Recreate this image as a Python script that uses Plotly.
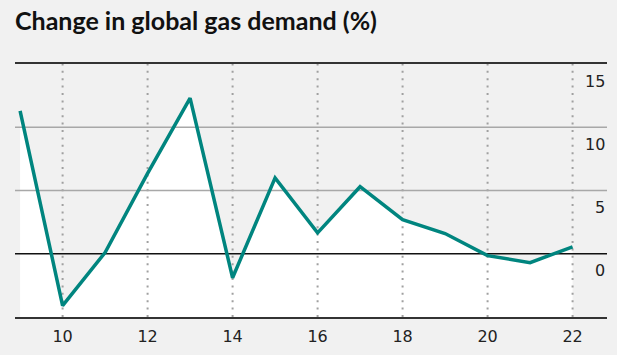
import plotly.graph_objects as go

years = [9, 10, 11, 12, 13, 14, 15, 16, 17, 18, 19, 20, 21, 22]
demand_change = [11.3, -4.1, 0.1, 6.35, 12.3, -1.9, 6.0, 1.65, 5.3, 2.7, 1.6, -0.15, -0.7, 0.55]
x_ticks = [10, 12, 14, 16, 18, 20, 22]
y_ticks = [15, 10, 5, 0]
y_grid_grey = [10, 5]
title_text = "Change in global gas demand (%)"

X_RANGE = [8.88, 22.81]
Y_RANGE = [-5, 15]
BG = "#f1f1f1"
TEAL = "#00857f"

fig = go.Figure()

# baseline at bottom of plot for white fill
fig.add_trace(go.Scatter(x=[years[0], years[-1]], y=[Y_RANGE[0]] * 2, mode="lines",
                         line=dict(width=0), hoverinfo="skip", showlegend=False))
fig.add_trace(go.Scatter(x=years, y=demand_change, mode="lines", fill="tonexty",
                         fillcolor="white", line=dict(width=0), hoverinfo="skip",
                         showlegend=False))

# vertical dotted gridlines
vx, vy = [], []
for t in x_ticks:
    vx += [t, t, None]
    vy += [Y_RANGE[0], Y_RANGE[1], None]
fig.add_trace(go.Scatter(x=vx, y=vy, mode="lines",
                         line=dict(color="#a0a0a0", width=2, dash="2px,5.4px"),
                         hoverinfo="skip", showlegend=False))

# horizontal grey gridlines
hx, hy = [], []
for t in y_grid_grey:
    hx += [X_RANGE[0], X_RANGE[1], None]
    hy += [t, t, None]
fig.add_trace(go.Scatter(x=hx, y=hy, mode="lines",
                         line=dict(color="#a8a8a8", width=1.5),
                         hoverinfo="skip", showlegend=False))
# zero line
fig.add_trace(go.Scatter(x=X_RANGE, y=[0, 0], mode="lines",
                         line=dict(color="#111111", width=1.5),
                         hoverinfo="skip", showlegend=False))

# main line
fig.add_trace(go.Scatter(x=years, y=demand_change, mode="lines",
                         line=dict(color=TEAL, width=3.5),
                         hoverinfo="skip", showlegend=False))

for t in y_ticks:
    fig.add_annotation(x=1, xref="paper", xanchor="right", y=t, yref="y",
                       yanchor="middle", yshift=-17, text=str(t), showarrow=False,
                       font=dict(family="DejaVu Sans", size=16, color="#222222"))

fig.add_annotation(x=0, xref="paper", xanchor="left", xshift=-2,
                   y=1, yref="paper", yanchor="bottom", yshift=27,
                   text="<b>" + title_text + "</b>", showarrow=False,
                   font=dict(family="Lato", size=25, color="#111111"))

fig.update_layout(
    width=617, height=355,
    margin=dict(l=15, r=10, t=64, b=38),
    paper_bgcolor=BG, plot_bgcolor=BG,
    xaxis=dict(range=X_RANGE, tickvals=x_ticks, showgrid=False, zeroline=False,
               showline=True, mirror=True, linecolor="#333333", linewidth=2,
               ticks="", ticklabelstandoff=4,
               tickfont=dict(family="DejaVu Sans", size=16, color="#222222")),
    yaxis=dict(range=Y_RANGE, showgrid=False, zeroline=False, showticklabels=False,
               showline=False),
)

fig.write_html("out.html", config={"displayModeBar": False},
               post_script="document.body.style.margin='0';document.body.style.padding='0';document.body.style.background='%s';" % BG)
